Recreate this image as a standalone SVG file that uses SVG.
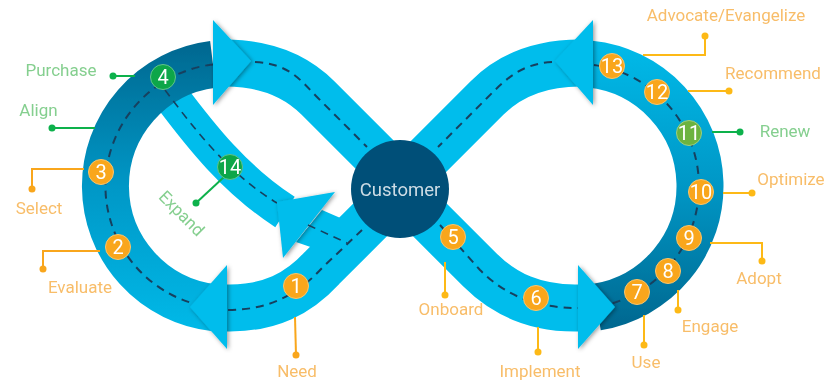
<svg xmlns="http://www.w3.org/2000/svg" width="825" height="382" viewBox="0 0 825 382">
<defs>
<linearGradient id="gl" gradientUnits="userSpaceOnUse" x1="0" y1="40" x2="0" y2="331"><stop offset="0" stop-color="#00678f"/><stop offset=".5" stop-color="#0097c6"/><stop offset="1" stop-color="#00b9e8"/></linearGradient>
<linearGradient id="gr" gradientUnits="userSpaceOnUse" x1="0" y1="40" x2="0" y2="331"><stop offset="0" stop-color="#00bbea"/><stop offset=".5" stop-color="#0097c6"/><stop offset="1" stop-color="#00678f"/></linearGradient>
<filter id="soft" x="0" y="0" width="100%" height="100%" filterUnits="userSpaceOnUse"><feGaussianBlur stdDeviation="0.7"/></filter>
<filter id="sh" x="-20%" y="-20%" width="140%" height="140%"><feDropShadow dx="1.5" dy="1" stdDeviation="2" flood-color="#000" flood-opacity=".4"/></filter>
</defs>
<style>
.band{fill:none;stroke:#00bdec;stroke-width:47}
.ring{fill:none;stroke-width:47}
.head{fill:#00bdec;filter:url(#sh)}
.dash{fill:none;stroke:#17405e;stroke-width:2;stroke-dasharray:8 6}
.o{fill:#f9a61a;stroke:#fbc56b;stroke-width:1}
.g{fill:#0aa64a;stroke:#62c48a;stroke-width:1}
.n{font:20px Roboto,"Liberation Sans",sans-serif;fill:#fff;text-anchor:middle}
.l{font:17px Roboto,"Liberation Sans",sans-serif;text-anchor:middle}
.lo{fill:#f8bd69}.lg{fill:#85cf8f}
.cy{fill:none;stroke:#fdb913;stroke-width:2}.cg{fill:none;stroke:#0db14b;stroke-width:2}
.dy{fill:#fdb913}.dg{fill:#0db14b}
</style>
<rect width="825" height="382" fill="#fff"/>
<g filter="url(#soft)">
<g id="ribbon">
<path class="band" style="stroke-width:36" d="M170,95C200,135 235,180 285,212"/>
<path class="ring" stroke="url(#gl)" d="M213,64.400A122.500,122.500 0 0 0 215,307.800"/>
<path class="ring" stroke="url(#gr)" d="M590,64.200A122.500,122.500 0 0 1 597,307"/>
<path class="band" d="M225,63C265,63 295,75 318,98L385,165"/>
<path class="band" d="M215,308L230,308C270,308 298,294 322,268L385,205"/>
<path class="band" d="M580,63C540,63 510,75 487,98L420,165"/>
<path class="band" d="M590,308L575,308C535,308 505,295 480,270L415,205"/>
<path class="dash" d="M213,64.400A122.500,122.500 0 0 0 215,307.800"/>
<path class="dash" d="M594,65A122.500,122.500 0 0 1 597,307"/>
<path class="dash" style="stroke-width:1.6" d="M165,90C195,130 230,175 277,203"/>
<polygon class="head" points="213,20 251,61 213,105"/>
<polygon class="head" points="227,265 190,307 227,349"/>
<polygon class="head" points="593,20 555,61 593,105"/>
<polygon class="head" points="578,265 615,307 578,349"/>
<polygon points="322,210 345,220 325,252 296,242" fill="#00bdec"/>
<polygon class="head" points="277,202 335,192 283,258"/>
<path class="dash" d="M255,62C290,64 300,80 318,98L367,147"/>
<path class="dash" d="M228,310C270,310 298,294 322,268L362,230"/>
<path class="dash" d="M552,62C520,64 505,80 487,98L438,147"/>
<path class="dash" d="M440,225L480,270C505,295 535,308 578,308"/>
<path class="dash" style="stroke-width:1.6" d="M308,225L347,243"/>
</g>
<g id="connectors">
<path class="cg" d="M135,76H113"/><circle class="dg" cx="113" cy="76" r="3.500"/>
<path class="cg" d="M95,128H52"/><circle class="dg" cx="52" cy="128" r="3.500"/>
<path class="cy" style="stroke:#f9a61a" d="M84,169H32V189"/><circle class="dy" style="fill:#f9a61a" cx="32" cy="189" r="3.500"/>
<path class="cy" style="stroke:#f9a61a" d="M100,251H43V269"/><circle class="dy" style="fill:#f9a61a" cx="43" cy="269" r="3.500"/>
<path class="cg" d="M224,177L196,203"/><circle class="dg" cx="196" cy="203" r="3.500"/>
<path class="cy" style="stroke:#f9a61a" d="M295,317L296,355"/><circle class="dy" style="fill:#f9a61a" cx="296" cy="355" r="3.500"/>
<path class="cy" d="M445,262V295"/><circle class="dy" cx="445" cy="295" r="3.500"/>
<path class="cy" d="M538,327V352"/><circle class="dy" cx="538" cy="352" r="3.500"/>
<path class="cy" d="M644,315V345"/><circle class="dy" cx="644" cy="345" r="3.500"/>
<path class="cy" d="M678,290V310"/><circle class="dy" cx="678" cy="310" r="3.500"/>
<path class="cy" d="M710,243H762V261"/><circle class="dy" cx="762" cy="261" r="3.500"/>
<path class="cy" d="M723,193H752"/><circle class="dy" cx="752" cy="193" r="3.500"/>
<path class="cg" d="M712,132H740"/><circle class="dg" cx="740" cy="132" r="3.500"/>
<path class="cy" d="M688,91H729"/><circle class="dy" cx="729" cy="91" r="3.500"/>
<path class="cy" d="M643,55H705V36"/><circle class="dy" cx="705" cy="36" r="3.500"/>
</g>
<g id="customer"><circle cx="400" cy="189" r="49" fill="#004f78"/><text x="400" y="196" font-family="Roboto,'Liberation Sans',sans-serif" font-size="18.500" fill="#cddce5" text-anchor="middle">Customer</text></g>
<g id="need"><circle class="o" cx="296" cy="286" r="12.500"/><text class="n" x="296" y="293">1</text><text class="l lo" x="297" y="377">Need</text></g>
<g id="evaluate"><circle class="o" cx="118" cy="247" r="12.500"/><text class="n" x="118" y="254">2</text><text class="l lo" x="80" y="293">Evaluate</text></g>
<g id="select"><circle class="o" cx="101" cy="172" r="12.500"/><text class="n" x="101" y="179">3</text><text class="l lo" x="39" y="214">Select</text></g>
<g id="align"><text class="l lg" x="38.500" y="116">Align</text></g>
<g id="purchase"><circle class="g" cx="163" cy="77" r="12.500"/><text class="n" x="163" y="84">4</text><text class="l lg" x="61" y="76">Purchase</text></g>
<g id="onboard"><circle class="o" cx="453" cy="237" r="12.500"/><text class="n" x="453" y="244">5</text><text class="l lo" x="451" y="315">Onboard</text></g>
<g id="implement"><circle class="o" cx="536" cy="298" r="12.500"/><text class="n" x="536" y="305">6</text><text class="l lo" x="540" y="377">Implement</text></g>
<g id="use"><circle class="o" cx="637" cy="292" r="12.500"/><text class="n" x="637" y="299">7</text><text class="l lo" x="646" y="368">Use</text></g>
<g id="engage"><circle class="o" cx="668" cy="271" r="12.500"/><text class="n" x="668" y="278">8</text><text class="l lo" x="710" y="332">Engage</text></g>
<g id="adopt"><circle class="o" cx="689" cy="238" r="12.500"/><text class="n" x="689" y="245">9</text><text class="l lo" x="759" y="284">Adopt</text></g>
<g id="optimize"><circle class="o" cx="701" cy="192" r="12.500"/><text class="n" x="701" y="199">10</text><text class="l lo" x="791" y="185">Optimize</text></g>
<g id="renew"><circle cx="689" cy="133" r="12.500" fill="#6cb33f" stroke="#9fd07f"/><text class="n" x="689" y="140">11</text><text class="l lg" x="785" y="137">Renew</text></g>
<g id="recommend"><circle class="o" cx="657" cy="92" r="12.500"/><text class="n" x="657" y="99">12</text><text class="l lo" x="773" y="79">Recommend</text></g>
<g id="advocate"><circle class="o" cx="612" cy="66" r="12.500"/><text class="n" x="612" y="73">13</text><text class="l lo" x="726" y="21">Advocate/Evangelize</text></g>
<g id="expand"><circle class="g" cx="230" cy="167" r="12.500"/><text class="n" x="230" y="174">14</text><text class="l lg" transform="translate(181,214) rotate(45)" y="5">Expand</text></g>
</g>
</svg>
